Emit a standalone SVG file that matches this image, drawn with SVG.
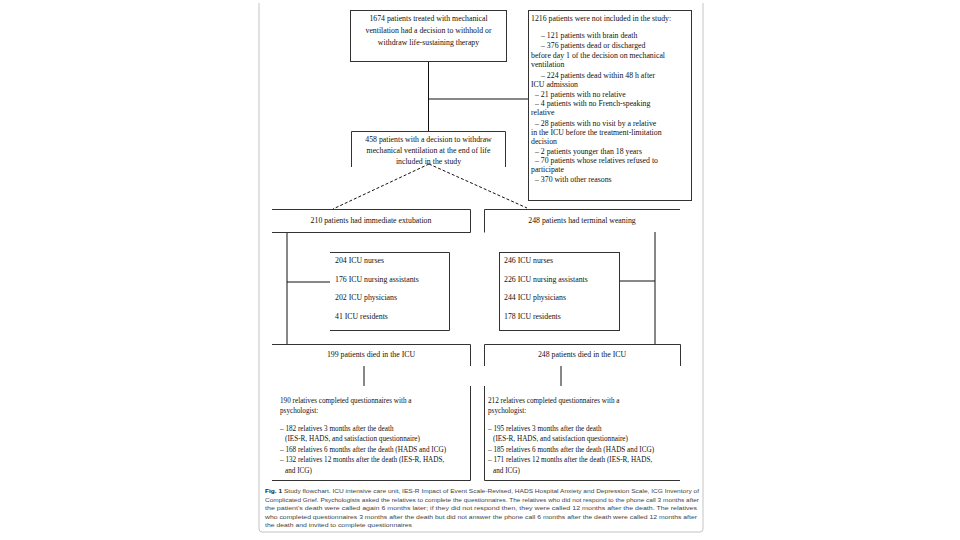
<svg xmlns="http://www.w3.org/2000/svg" width="960" height="540" viewBox="0 0 960 540">
<style>
.t{font-family:"Liberation Serif","Times New Roman",serif;font-size:7.8px;fill:#111}
.s{font-size:7.2px}
.c{text-anchor:middle}
.b{fill:none;stroke:#333;stroke-width:1}
.cn{fill:none;stroke:#111;stroke-width:1}
.d{stroke-dasharray:3 2}
.cap{font-family:"Liberation Sans",Arial,sans-serif;font-size:5.6px;fill:#444}
</style>
<rect x="0" y="0" width="960" height="540" fill="#fff"/>
<path d="M259,3 V529 Q259,532 262,532 H700 Q703,532 703,529 V3" fill="none" stroke="#bdbdbd" stroke-width="0.9"/>

<g id="connectors">
<path class="cn" d="M428.5,61 V131"/>
<path class="cn" d="M428.5,99 H528"/>
<path class="cn d" d="M429,164 L333,209"/>
<path class="cn d" d="M429,164 L527,208"/>
<path class="cn" d="M287,232 V344"/>
<path class="cn" d="M287,282 H330"/>
<path class="cn" d="M655,232 V344"/>
<path class="cn" d="M619,281 H655"/>
<path class="cn" d="M364,366 V386"/>
<path class="cn" d="M561,366 V386"/>
</g>

<g id="n-start">
<rect class="b" x="350.5" y="10.5" width="156" height="51"/>
<text class="t c" x="428.5" y="21">1674 patients treated with mechanical</text>
<text class="t c" x="428.5" y="33">ventilation had a decision to withhold or</text>
<text class="t c" x="428.5" y="45">withdraw life-sustaining therapy</text>
</g>

<g id="n-excluded">
<rect class="b" x="528.5" y="10.5" width="163" height="190"/>
<text class="t" x="531" y="21">1216 patients were not included in the study:</text>
<text class="t" x="541" y="38">– 121 patients with brain death</text>
<text class="t" x="541" y="48">– 376 patients dead or discharged</text>
<text class="t" x="531" y="58">before day 1 of the decision on mechanical</text>
<text class="t" x="531" y="67">ventilation</text>
<text class="t" x="541" y="78">– 224 patients dead within 48 h after</text>
<text class="t" x="531" y="87">ICU admission</text>
<text class="t" x="535" y="97">– 21 patients with no relative</text>
<text class="t" x="535" y="106">– 4 patients with no French-speaking</text>
<text class="t" x="531" y="115">relative</text>
<text class="t" x="535" y="126">– 28 patients with no visit by a relative</text>
<text class="t" x="531" y="135">in the ICU before the treatment-limitation</text>
<text class="t" x="531" y="144">decision</text>
<text class="t" x="535" y="154">– 2 patients younger than 18 years</text>
<text class="t" x="535" y="163">– 70 patients whose relatives refused to</text>
<text class="t" x="531" y="172">participate</text>
<text class="t" x="535" y="182">– 370 with other reasons</text>
</g>

<g id="n-included">
<path class="b" d="M351.5,167 V131.5 H505.5 V167"/>
<text class="t c" x="428.5" y="142">458 patients with a decision to withdraw</text>
<text class="t c" x="428.5" y="153">mechanical ventilation at the end of life</text>
<text class="t c" x="428.5" y="164">included in the study</text>
</g>

<g id="n-extubation">
<path class="b" d="M272,209.5 H470.5 V232.5 H272"/>
<text class="t c" x="371" y="223">210 patients had immediate extubation</text>
</g>

<g id="n-weaning">
<path class="b" d="M484.5,232.5 V209.5 H680"/>
<text class="t c" x="582" y="223">248 patients had terminal weaning</text>
</g>

<g id="n-staff-left">
<path class="b" d="M330,252.5 H449.5 V330.5 H330"/>
<text class="t" x="335" y="263">204 ICU nurses</text>
<text class="t" x="335" y="282">176 ICU nursing assistants</text>
<text class="t" x="335" y="300">202 ICU physicians</text>
<text class="t" x="335" y="319">41 ICU residents</text>
</g>

<g id="n-staff-right">
<rect class="b" x="499.5" y="252.5" width="120" height="78"/>
<text class="t" x="504" y="263">246 ICU nurses</text>
<text class="t" x="504" y="282">226 ICU nursing assistants</text>
<text class="t" x="504" y="300">244 ICU physicians</text>
<text class="t" x="504" y="319">178 ICU residents</text>
</g>

<g id="n-died-left">
<path class="b" d="M272,344.5 H470.5 V366"/>
<text class="t c" x="371" y="357">199 patients died in the ICU</text>
</g>

<g id="n-died-right">
<path class="b" d="M484.5,366 V344.5 H680.5 V366"/>
<text class="t c" x="582" y="357">248 patients died in the ICU</text>
</g>

<g id="n-relatives-left">
<path class="b" d="M470.5,386 V480.5 H272"/>
<text class="t s" x="280" y="403">190 relatives completed questionnaires with a</text>
<text class="t s" x="280" y="413">psychologist:</text>
<text class="t s" x="280" y="431">– 182 relatives 3 months after the death</text>
<text class="t s" x="285" y="441">(IES-R, HADS, and satisfaction questionnaire)</text>
<text class="t s" x="280" y="452">– 168 relatives 6 months after the death (HADS and ICG)</text>
<text class="t s" x="280" y="462">– 132 relatives 12 months after the death (IES-R, HADS,</text>
<text class="t s" x="285" y="473">and ICG)</text>
</g>

<g id="n-relatives-right">
<path class="b" d="M484.5,386 V480.5 H680"/>
<text class="t s" x="488" y="403">212 relatives completed questionnaires with a</text>
<text class="t s" x="488" y="413">psychologist:</text>
<text class="t s" x="488" y="431">– 195 relatives 3 months after the death</text>
<text class="t s" x="493" y="441">(IES-R, HADS, and satisfaction questionnaire)</text>
<text class="t s" x="488" y="452">– 185 relatives 6 months after the death (HADS and ICG)</text>
<text class="t s" x="488" y="462">– 171 relatives 12 months after the death (IES-R, HADS,</text>
<text class="t s" x="493" y="473">and ICG)</text>
</g>

<g id="caption">
<text class="cap" x="265" y="493" textLength="434" lengthAdjust="spacingAndGlyphs"><tspan font-weight="bold" fill="#222">Fig. 1</tspan> Study flowchart. ICU intensive care unit, IES-R Impact of Event Scale-Revised, HADS Hospital Anxiety and Depression Scale, ICG Inventory of</text>
<text class="cap" x="265" y="501.5" textLength="434" lengthAdjust="spacingAndGlyphs">Complicated Grief. Psychologists asked the relatives to complete the questionnaires. The relatives who did not respond to the phone call 3 months after</text>
<text class="cap" x="265" y="510" textLength="432" lengthAdjust="spacingAndGlyphs">the patient's death were called again 6 months later; if they did not respond then, they were called 12 months after the death. The relatives</text>
<text class="cap" x="265" y="518.5" textLength="432" lengthAdjust="spacingAndGlyphs">who completed questionnaires 3 months after the death but did not answer the phone call 6 months after the death were called 12 months after</text>
<text class="cap" x="265" y="527" textLength="147" lengthAdjust="spacingAndGlyphs">the death and invited to complete questionnaires</text>
</g>
</svg>
